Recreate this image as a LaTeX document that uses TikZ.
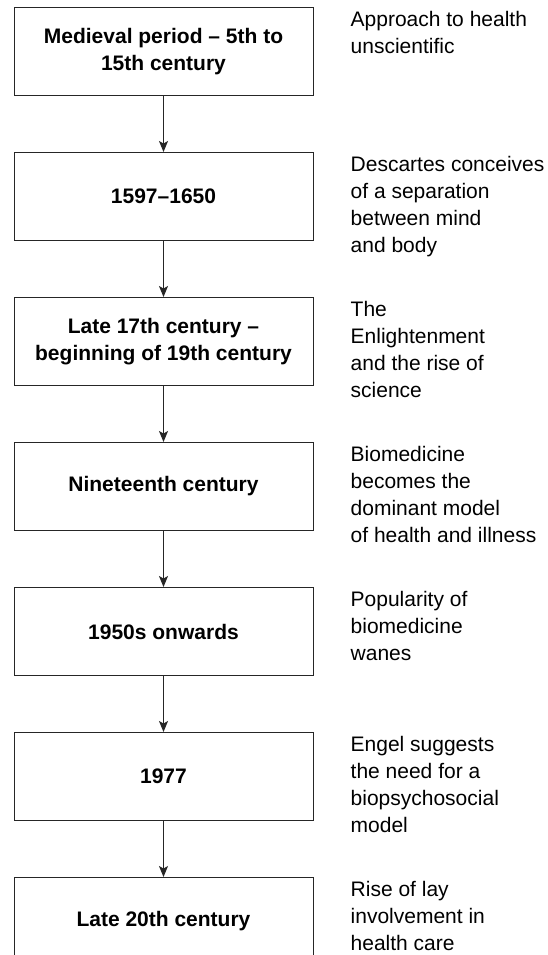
\documentclass[tikz,border=0pt]{standalone}
\usepackage{fontspec}
\setmainfont{Liberation Sans}
\usetikzlibrary{positioning,arrows.meta}

\begin{document}
\begin{tikzpicture}[x=1pt,y=1pt,
    era/.style={draw=black!85,line width=1pt,minimum width=299pt,minimum height=88pt,
      inner sep=0pt,align=center,font=\fontsize{21}{27}\selectfont\bfseries},
    note/.style={anchor=north west,inner sep=0pt,align=left,font=\fontsize{21}{27}\selectfont},
    link/.style={-{Stealth[length=11pt,width=9pt,inset=2.5pt]},line width=1pt,draw=black!85}]
      \useasboundingbox (0,0) rectangle (548,-955);
      \node[era] (e1) at (163.5,-51.5) {Medieval period -- 5th to\\15th century};
      \node[era,below=56pt of e1] (e2) {1597--1650};
      \node[era,below=56pt of e2] (e3) {Late 17th century --\\beginning of 19th century};
      \node[era,below=56pt of e3] (e4) {Nineteenth century};
      \node[era,below=56pt of e4] (e5) {1950s onwards};
      \node[era,below=56pt of e5] (e6) {1977};
      \node[era,below=56pt of e6] (e7) {Late 20th century};
      \node[note] (n1) at ([xshift=37pt,yshift=-4pt]e1.north east) {Approach to health\\unscientific};
      \node[note] (n2) at ([xshift=37pt,yshift=-4pt]e2.north east) {Descartes conceives\\of a separation\\between mind\\and body};
      \node[note] (n3) at ([xshift=37pt,yshift=-4pt]e3.north east) {The\\Enlightenment\\and the rise of\\science};
      \node[note] (n4) at ([xshift=37pt,yshift=-4pt]e4.north east) {Biomedicine\\becomes the\\dominant model\\of health and illness};
      \node[note] (n5) at ([xshift=37pt,yshift=-4pt]e5.north east) {Popularity of\\biomedicine\\wanes};
      \node[note] (n6) at ([xshift=37pt,yshift=-4pt]e6.north east) {Engel suggests\\the need for a\\biopsychosocial\\model};
      \node[note] (n7) at ([xshift=37pt,yshift=-4pt]e7.north east) {Rise of lay\\involvement in\\health care};
      \draw[link] (e1) -- (e2);
      \draw[link] (e2) -- (e3);
      \draw[link] (e3) -- (e4);
      \draw[link] (e4) -- (e5);
      \draw[link] (e5) -- (e6);
      \draw[link] (e6) -- (e7);
\end{tikzpicture}
\end{document}
